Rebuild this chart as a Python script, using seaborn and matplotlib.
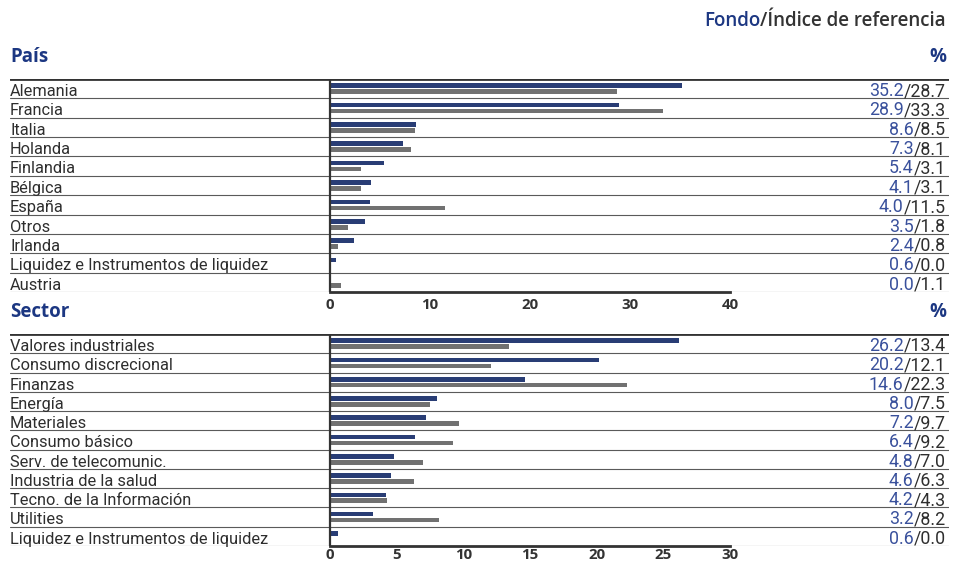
import matplotlib
matplotlib.use("Agg")
import matplotlib.pyplot as plt
import matplotlib.transforms as mtransforms
import pandas as pd
import seaborn as sns

# ---- data -------------------------------------------------------------
country_labels = ["Alemania", "Francia", "Italia", "Holanda", "Finlandia",
                  "Bélgica", "España", "Otros", "Irlanda",
                  "Liquidez e Instrumentos de liquidez", "Austria"]
country_fund = [35.2, 28.9, 8.6, 7.3, 5.4, 4.1, 4.0, 3.5, 2.4, 0.6, 0.0]
country_index = [28.7, 33.3, 8.5, 8.1, 3.1, 3.1, 11.5, 1.8, 0.8, 0.0, 1.1]
country_ticks = [0, 10, 20, 30, 40]

sector_labels = ["Valores industriales", "Consumo discrecional", "Finanzas",
                 "Energía", "Materiales", "Consumo básico",
                 "Serv. de telecomunic.", "Industria de la salud",
                 "Tecno. de la Información", "Utilities",
                 "Liquidez e Instrumentos de liquidez"]
sector_fund = [26.2, 20.2, 14.6, 8.0, 7.2, 6.4, 4.8, 4.6, 4.2, 3.2, 0.6]
sector_index = [13.4, 12.1, 22.3, 7.5, 9.7, 9.2, 7.0, 6.3, 4.3, 8.2, 0.0]
sector_ticks = [0, 5, 10, 15, 20, 25, 30]

series_names = ["Fondo", "Índice de referencia"]

# ---- style ------------------------------------------------------------
BLUE = "#1c3782"
BLUE_TXT = "#3a519c"
GRAY = "#717171"
DARK = "#333333"
TXT = "#2e2e2e"
LINE = "#5a5a5a"
BODY = ["Roboto", "DejaVu Sans"]
HEAD = ["Open Sans", "DejaVu Sans"]
BODY_SIZE = 11.8
VALUE_SIZE = 12.8

sns.set_style("white")
plt.rcParams["font.family"] = BODY

W, H = 955, 562
fig = plt.figure(figsize=(W / 100, H / 100), dpi=100)


def px_axes(top, bottom, left=10, right=949):
    return fig.add_axes([left / W, 1 - bottom / H, (right - left) / W,
                         (bottom - top) / H])


def panel(ax, labels, fund, index, ticks, xlim, pad):
    df = pd.DataFrame({
        "cat": labels * 2,
        "value": list(fund) + list(index),
        "series": [series_names[0]] * len(labels) + [series_names[1]] * len(labels),
    })
    sns.barplot(data=df, y="cat", x="value", hue="series", order=labels,
                hue_order=series_names, palette=[BLUE, GRAY], orient="h",
                width=0.62, gap=0.22, linewidth=0, legend=False, ax=ax)
    n = len(labels)
    ax.set_xlim(*xlim)
    ax.set_ylim(n - 0.5, -0.5)
    ax.set_xlabel("")
    ax.set_ylabel("")
    ax.set_yticks([])
    for s in ["top", "left", "right"]:
        ax.spines[s].set_visible(False)
    ax.spines["bottom"].set_bounds(ticks[0], ticks[-1])
    ax.spines["bottom"].set_linewidth(2.0)
    ax.spines["bottom"].set_color(DARK)
    ax.set_xticks(ticks)
    ax.set_xticklabels([str(t) for t in ticks], family=HEAD, fontweight="bold",
                       fontsize=10.8, color=DARK)
    ax.tick_params(axis="x", direction="in", length=3.5, width=1, color=DARK,
                   pad=pad)

    # row rules
    ax.axhline(-0.5, color=DARK, lw=2.0, zorder=3)
    for i in range(n - 1):
        ax.axhline(i + 0.5, color=LINE, lw=0.8, zorder=3)
    ax.axhline(n - 0.5, color=LINE, lw=0.8, zorder=3)
    ax.plot([0, 0], [-0.5, n - 0.5], color=DARK, lw=1.6, zorder=4,
            solid_capstyle="butt")

    tr = mtransforms.blended_transform_factory(ax.transAxes, ax.transData)
    for i, lab in enumerate(labels):
        ax.text(0.0, i + 0.38, lab, transform=tr, ha="left", va="baseline",
                fontsize=BODY_SIZE, color=TXT)
        t_idx = ax.text(0.9965, i + 0.38, f"/{index[i]:.1f}", transform=tr,
                        ha="right", va="baseline", fontsize=VALUE_SIZE,
                        color=TXT)
        ax.annotate(f"{fund[i]:.1f}", xy=(0, 0), xycoords=t_idx, ha="right",
                    va="bottom", fontsize=VALUE_SIZE, color=BLUE_TXT,
                    family=BODY)


ax1 = px_axes(79, 292)
panel(ax1, country_labels, country_fund, country_index, country_ticks,
      (-32, 61.9), pad=4)
ax2 = px_axes(334, 546)
panel(ax2, sector_labels, sector_fund, sector_index, sector_ticks,
      (-24, 46.43), pad=1.5)

# headings
def fig_text(x, y, s, **kw):
    return fig.text(x / W, 1 - y / H, s, **kw)

head_kw = dict(family=HEAD, fontweight="bold", fontsize=13.5, color=BLUE,
               va="baseline")
fig_text(10, 62, "País", ha="left", **head_kw)
fig_text(946, 62, "%", ha="right", **head_kw)
fig_text(10, 317, "Sector", ha="left", **head_kw)
fig_text(946, 317, "%", ha="right", **head_kw)

t_ref = fig_text(946, 26, "/Índice de referencia", family=HEAD,
                 fontweight="semibold", fontsize=13.5, color=DARK,
                 ha="right", va="baseline")
ax1.annotate("Fondo", xy=(0, 0), xycoords=t_ref, ha="right", va="bottom",
             family=HEAD, fontweight="semibold", fontsize=13.5, color=BLUE,
             annotation_clip=False)

fig.savefig("out.png", dpi=100)
